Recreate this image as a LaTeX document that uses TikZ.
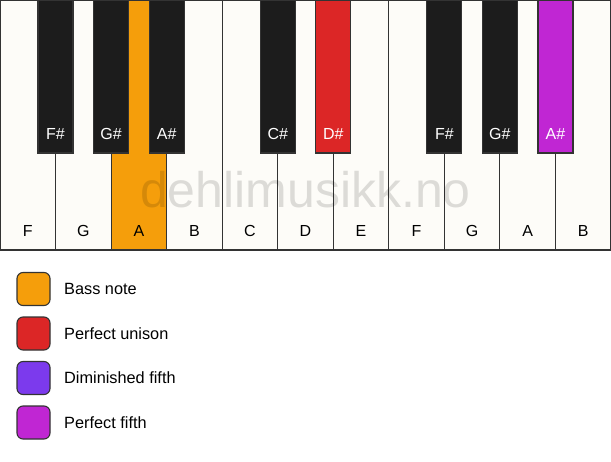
\documentclass[tikz,border=0pt]{standalone}
\usepackage{fontspec}
\setmainfont{Liberation Sans}
\definecolor{keywhite}{HTML}{FDFCF8}
\definecolor{keyblack}{HTML}{1C1C1C}
\definecolor{keyline}{HTML}{333333}
\definecolor{cbass}{HTML}{F59E0B}
\definecolor{cunison}{HTML}{DC2626}
\definecolor{cdim}{HTML}{7C3AED}
\definecolor{cfifth}{HTML}{C026D3}
\begin{document}
\begin{tikzpicture}[x=1pt,y=-1pt,
  whitekey/.style={draw=keyline,line width=1.1pt,fill=keywhite,minimum width=55.545pt,minimum height=250pt,inner sep=0pt,outer sep=0pt,anchor=north west},
  blackkey/.style={draw=keyline,line width=1.1pt,fill=keyblack,minimum width=35pt,minimum height=153pt,inner sep=0pt,outer sep=0pt,anchor=north},
  wlabel/.style={font=\fontsize{16}{18}\selectfont,text=black,anchor=base},
  blabel/.style={font=\fontsize{16}{18}\selectfont,text=white,anchor=base},
  legbox/.style={draw=keyline,line width=1.1pt,rounded corners=6pt,minimum size=33pt,inner sep=0pt},
  legtext/.style={font=\fontsize{16.3}{19}\selectfont,anchor=west,inner sep=0pt}]
\useasboundingbox (0,0) rectangle (611,461);
% white keys
\foreach \n [count=\i from 0] in {F,G,A,B,C,D,E,F,G,A,B}{
  \node[whitekey] (wk\i) at (\i*55.545,0) {};
}
\node[whitekey,fill=cbass] (wkA) at (2*55.545,0) {};
\foreach \n [count=\i from 0] in {F,G,A,B,C,D,E,F,G,A,B}{
  \node[wlabel] (wl\i) at (\i*55.545+27.77,236) {\n};
}
% watermark
\node[font=\fontsize{50}{54}\selectfont,text=black,text opacity=0.13,anchor=base] (wm) at (305.5,207) {dehlimusikk.no};
% black keys
\foreach \b/\n/\c [count=\j] in {1/F\#/keyblack,2/G\#/keyblack,3/A\#/keyblack,5/C\#/keyblack,6/D\#/cunison,8/F\#/keyblack,9/G\#/keyblack,10/A\#/cfifth}{
  \node[blackkey,fill=\c] (bk\j) at (\b*55.545,0) {};
  \node[blabel] (bl\j) at (\b*55.545,139) {\n};
}
% legend
\node[legbox,fill=cbass] (lb1) at (33.5,289) {};
\node[legtext] (lt1) at (64,289) {Bass note};
\node[legbox,fill=cunison] (lb2) at (33.5,333.5) {};
\node[legtext] (lt2) at (64,333.5) {Perfect unison};
\node[legbox,fill=cdim] (lb3) at (33.5,378) {};
\node[legtext] (lt3) at (64,378) {Diminished fifth};
\node[legbox,fill=cfifth] (lb4) at (33.5,422.5) {};
\node[legtext] (lt4) at (64,422.5) {Perfect fifth};
\end{tikzpicture}
\end{document}
